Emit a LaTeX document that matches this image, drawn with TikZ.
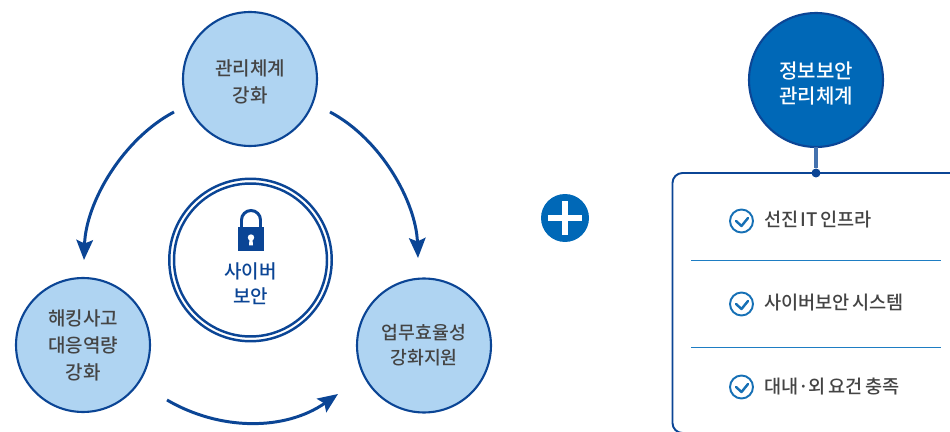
\documentclass[tikz,border=0pt]{standalone}
\usepackage{fontspec}
\setmainfont[WordSpace=0.6]{Noto Sans CJK KR Medium}
\usetikzlibrary{arrows.meta}
\definecolor{navy}{HTML}{0B4595}
\definecolor{midblue}{HTML}{0068B7}
\definecolor{paleblue}{HTML}{AFD4F2}
\definecolor{linkblue}{HTML}{4472AE}
\definecolor{ruleblue}{HTML}{1E7DC3}
\definecolor{checkblue}{HTML}{1670B5}
\definecolor{textgrey}{HTML}{444444}
\begin{document}
\begin{tikzpicture}[x=0.02cm,y=-0.02cm]
\tikzstyle{every node}+=[inner sep=0pt,outer sep=0pt,align=center,font=\fontsize{10.8}{15.4}\selectfont]
\tikzstyle{topic}=[circle,draw=navy,line width=1.2pt,fill=paleblue,minimum size=2.68cm,text=textgrey]
\tikzstyle{flow}=[draw=navy,line width=1.7pt,-{Stealth[length=0.4cm,width=0.33cm,inset=0.07cm]}]
\tikzstyle{item}=[anchor=west,text=textgrey,font=\fontsize{10.6}{15.4}\selectfont]
\tikzstyle{tick}=[circle,draw=checkblue,line width=1.1pt,minimum size=0.46cm]
\tikzstyle{tickmark}=[draw=checkblue,line width=1.4pt,line cap=round,line join=round]
\tikzstyle{divider}=[draw=ruleblue,line width=0.8pt]
\useasboundingbox (0,0) rectangle (950,432);
% three topics round the centre
\node [topic,text height=27.2pt] (mgmt) at (250,79) {관리체계\\강화};
\node [topic] (hack) at (83,345) {해킹사고\\대응역량\\강화};
\node [topic,font=\fontsize{10.4}{15.4}\selectfont] (biz) at (424,345.5) {업무효율성\\[-1.3pt]강화지원};
\coordinate (mgmtout1) at (174,112);
\coordinate (hackin) at (84,260);
\coordinate (mgmtout2) at (330,112);
\coordinate (bizin1) at (418,258);
\coordinate (hackout) at (167,400);
\coordinate (bizin2) at (338,394);
\draw [flow] (mgmtout1) .. controls (123,139) and (86,202) .. (hackin);
\draw [flow] (mgmtout2) .. controls (381,139) and (416,202) .. (bizin1);
\draw [flow] (hackout) .. controls (220,431) and (285,431) .. (bizin2);
% centre ring and lock
\node [circle,draw=navy,line width=1.4pt,minimum size=3.25cm] (ringout) at (250.5,260) {};
\node [circle,draw=navy,line width=1.4pt,minimum size=3.06cm] (ringin) at (250.5,260) {};
\draw [navy,line width=1.7pt] (241.5,228) -- (241.5,220) arc (180:360:9.5) -- (260.5,228);
\fill [navy] (238,227) rectangle (264,251);
\fill [white] (251,237.5) circle (3.2);
\fill [white] (249.6,238) -- (252.4,238) -- (253,245.5) -- (249,245.5) -- cycle;
\node [text=navy] (cyber) at (250.5,284) {사이버\\[-1.3pt]보안};
% plus sign
\node [circle,fill=midblue,minimum size=0.96cm] (plus) at (565,218) {};
\fill [white] (548,215) rectangle (582,221);
\fill [white] (562,201) rectangle (568,235);
% right column
\node [topic,fill=midblue,text=white,font=\fontsize{11.4}{15.4}\selectfont,text height=28pt] (info) at (816,80) {정보보안\\[-1.3pt]관리체계};
\draw [navy,line width=1.1pt,rounded corners=0.2cm] (950,173) -- (672.5,173) -- (672.5,433) -- (690,433);
\node [circle,fill=navy,minimum size=0.18cm] (joint) at (816,173) {};
\draw [linkblue,line width=1.8pt] (info) -- (joint);
\node [tick] (tick1) at (741.5,221) {};
\draw [tickmark] (736,221) -- ++(5.5,5) -- ++(6.5,-8);
\node [item] (infra) at (764,220) {선진 IT 인프라};
\draw [divider] (691,260.5) -- (941,260.5);
\node [tick] (tick2) at (741.5,304) {};
\draw [tickmark] (736,304) -- ++(5.5,5) -- ++(6.5,-8);
\node [item] (system) at (764,303) {사이버보안 시스템};
\draw [divider] (691,347.5) -- (941,347.5);
\node [tick] (tick3) at (741.5,387) {};
\draw [tickmark] (736,387) -- ++(5.5,5) -- ++(6.5,-8);
\node [item] (require) at (764,387) {대내·외 요건 충족};
\end{tikzpicture}
\end{document}
